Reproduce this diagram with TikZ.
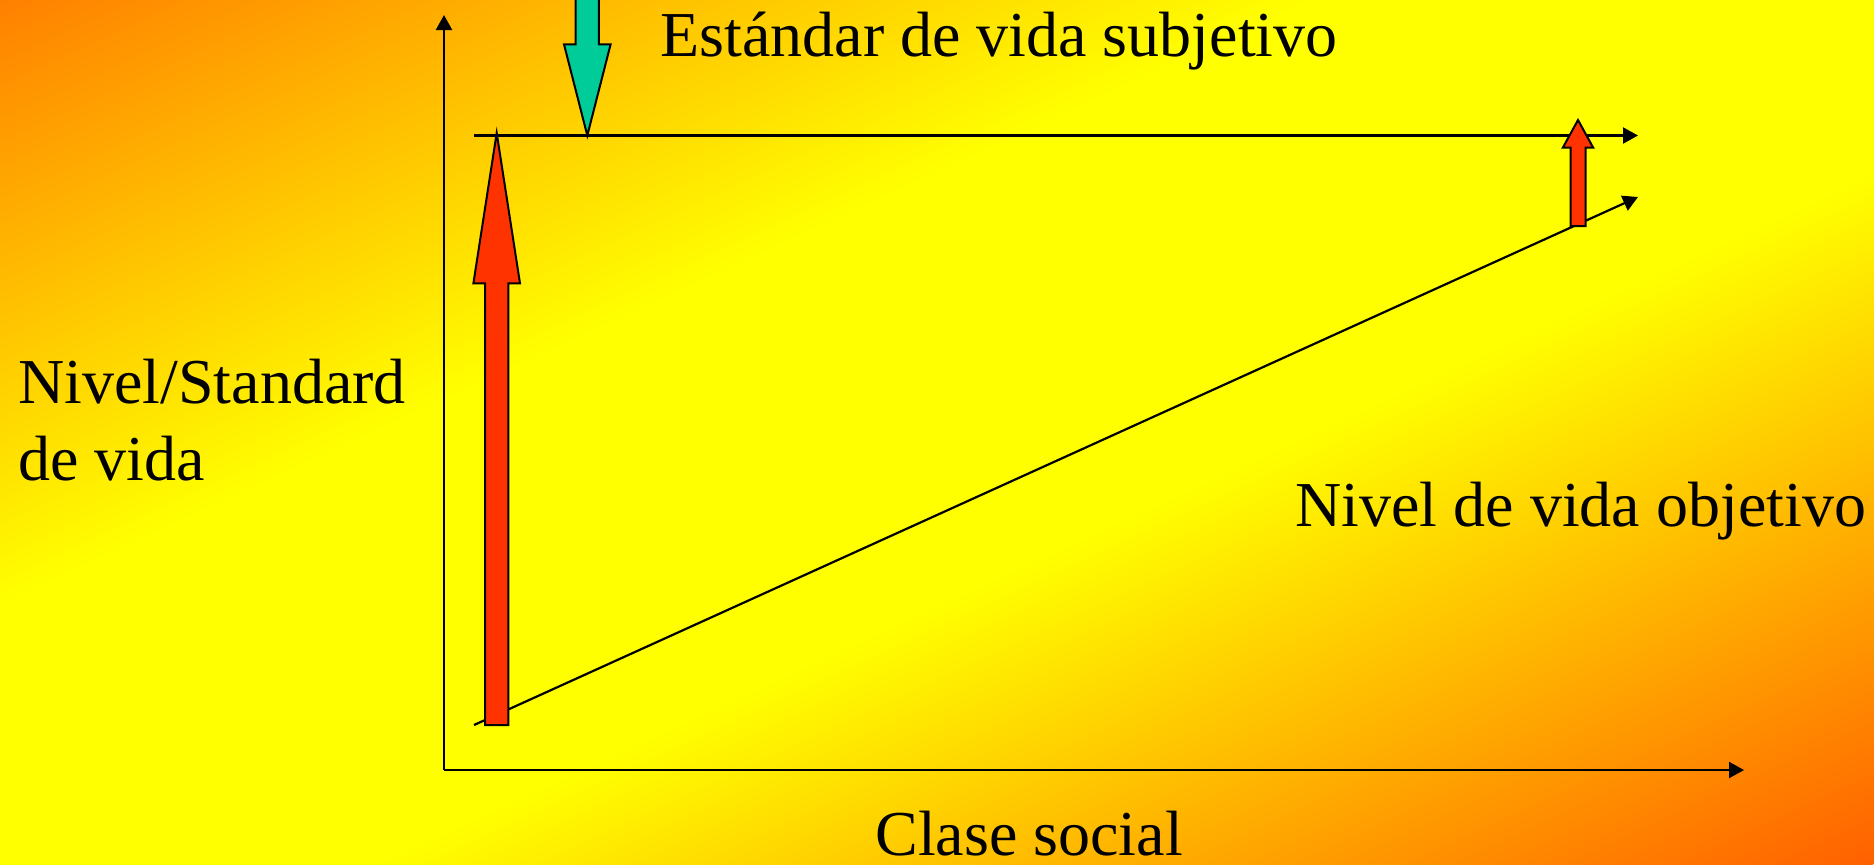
\documentclass[tikz,border=0pt]{standalone}
\usepackage{fontspec}
\setmainfont{Liberation Serif}
\usetikzlibrary{arrows.meta}
\definecolor{bgA}{RGB}{255,128,0}
\definecolor{bgB}{RGB}{255,96,0}
\definecolor{bgY}{RGB}{255,255,0}
\definecolor{arrowred}{RGB}{255,51,0}
\definecolor{arrowteal}{RGB}{0,204,153}
\pgfdeclarehorizontalshading{bgshade}{100bp}{color(0bp)=(bgA); color(25bp)=(bgA); color(42.5bp)=(bgY); color(55bp)=(bgY); color(75bp)=(bgB); color(100bp)=(bgB)}
\tikzset{
  axisline/.style={line width=1.1pt, -{Triangle[length=7.5pt,width=8pt]}},
  blockarrow/.style={draw=black, line width=1pt, line join=miter},
  lbl/.style={anchor=base west, inner sep=0pt, font=\fontsize{32}{38.5}\selectfont},
}
\begin{document}
\begin{tikzpicture}[x=0.5pt,y=-0.5pt]
\useasboundingbox (0,0) rectangle (1874,864);
\begin{scope}
\clip (0,0) rectangle (1874,864);
\shade[shading=bgshade, transform canvas={cm={9.37,-4.32,18.74,8.64,(-937pt,-432pt)}}] (0pt,0pt) rectangle (100pt,100pt);

% coordinates
\coordinate (origin) at (444,770);
\coordinate (yaxtop) at (444,15);
\coordinate (xaxend) at (1744,770);
\coordinate (stdL) at (474,135.5);
\coordinate (stdR) at (1638,135.5);
\coordinate (objL) at (474,725);
\coordinate (objR) at (1638,197);

% axes and lines
\draw[axisline] (origin) -- (yaxtop);
\draw[axisline] (origin) -- (xaxend);
\draw[axisline] (stdL) -- (stdR);
\draw[axisline] (objL) -- (objR);

% teal arrow (down)
\draw[blockarrow, fill=arrowteal] (575.65,-10) -- (575.65,44.3) -- (564,44.3) -- (587.3,135.5) -- (610.6,44.3) -- (598.95,44.3) -- (598.95,-10) -- cycle;

% big red arrow (up)
\draw[blockarrow, fill=arrowred] (485,725) -- (485,283.3) -- (473.4,283.3) -- (496.7,133) -- (520,283.3) -- (508.4,283.3) -- (508.4,725) -- cycle;

% small red arrow (up)
\draw[blockarrow, fill=arrowred] (1570.5,226) -- (1570.5,147.7) -- (1562.8,147.7) -- (1578,120) -- (1593.2,147.7) -- (1585.5,147.7) -- (1585.5,226) -- cycle;
\end{scope}

% labels
\node[lbl] (subj) at (660,56) {Estándar de vida subjetivo};
\node[lbl] (ylab1) at (18,403) {Nivel/Standard};
\node[lbl] (ylab2) at (18,480) {de vida};
\node[lbl] (obj) at (1295,526) {Nivel de vida objetivo};
\node[lbl] (xlab) at (875,855) {Clase social};
\end{tikzpicture}
\end{document}
